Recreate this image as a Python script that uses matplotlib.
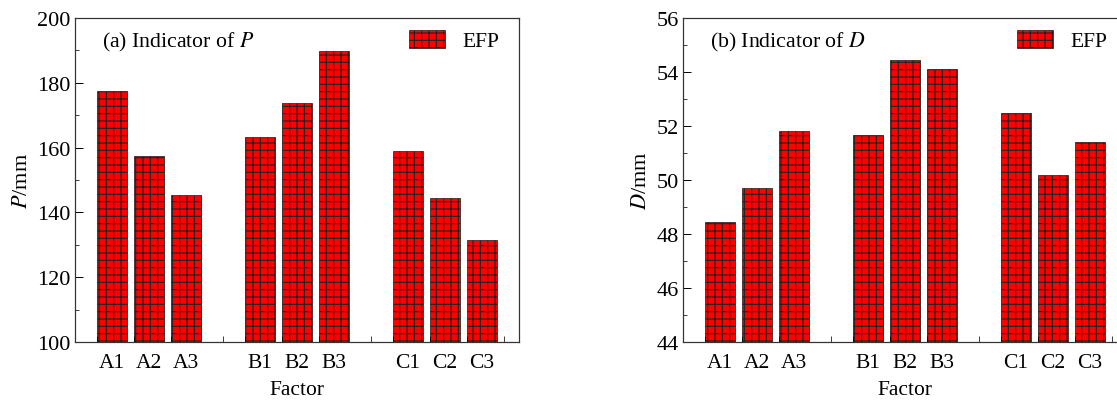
import matplotlib
matplotlib.use('Agg')
import matplotlib.pyplot as plt

# factor levels and their measured indicators
factors = ['A1', 'A2', 'A3', 'B1', 'B2', 'B3', 'C1', 'C2', 'C3']
xpos = [1, 2, 3, 5, 6, 7, 9, 10, 11]
P_vals = [177.4, 157.4, 145.2, 163.2, 173.8, 189.7, 158.9, 144.5, 131.4]
D_vals = [48.44, 49.70, 51.82, 51.66, 54.45, 54.10, 52.48, 50.19, 51.39]

DPI = 88
k = 100.0 / DPI  # keep font sizes as if at 100 dpi

plt.rcParams['font.family'] = ['Liberation Serif', 'DejaVu Serif']
plt.rcParams['mathtext.fontset'] = 'stix'
plt.rcParams['hatch.linewidth'] = 0.9
plt.rcParams['hatch.color'] = 'black'

fig = plt.figure(figsize=(1117 / DPI, 403 / DPI), dpi=DPI)
ax1 = fig.add_axes([0.067, 0.149, 0.3975, 0.804])
ax2 = fig.add_axes([0.6115, 0.149, 0.3975, 0.804])

minor_x = [0.6, 1.6, 2.6, 4, 4.6, 5.6, 6.6, 8, 8.6, 9.6, 10.6, 11.6]


def panel(ax, vals, ylim, yticks, yminor, ylab, title):
    ax.bar(xpos, vals, width=0.8, color='#ff0000', edgecolor='#222222',
           linewidth=0.6, hatch='++', label='EFP')
    ax.set_xlim(0, 12)
    ax.set_ylim(*ylim)
    ax.set_xticks(xpos)
    ax.set_xticklabels(factors)
    ax.set_xticks(minor_x, minor=True)
    ax.set_yticks(yticks)
    ax.set_yticks(yminor, minor=True)
    ax.tick_params(axis='x', which='major', length=0, labelsize=15.5 * k, pad=8 * k)
    ax.tick_params(axis='x', which='minor', direction='in', length=4 * k)
    ax.tick_params(axis='y', which='major', direction='in', length=6 * k,
                   labelsize=16 * k, pad=3 * k)
    ax.tick_params(axis='y', which='minor', direction='in', length=3 * k)
    for s in ax.spines.values():
        s.set_color('#333333')
        s.set_linewidth(1.0)
    ax.set_xlabel('Factor', fontsize=15.5 * k, labelpad=6 * k)
    ax.set_ylabel(ylab, fontsize=16 * k, labelpad=4 * k)
    ax.text(0.061, 0.926, title, transform=ax.transAxes, fontsize=15.7 * k, va='center')
    ax.legend(loc='upper right', bbox_to_anchor=(0.99, 1.01), frameon=False,
              fontsize=15.5 * k, handlelength=1.7, handleheight=0.9,
              handletextpad=0.8, borderaxespad=0.3)


panel(ax1, P_vals, (100, 200), [100, 120, 140, 160, 180, 200],
      [110, 130, 150, 170, 190], r'$P$/mm', r'(a) Indicator of $P$')
panel(ax2, D_vals, (44, 56), [44, 46, 48, 50, 52, 54, 56],
      [45, 47, 49, 51, 53, 55], r'$D$/mm', r'(b) Indicator of $D$')

fig.savefig('out.png', dpi=DPI)
